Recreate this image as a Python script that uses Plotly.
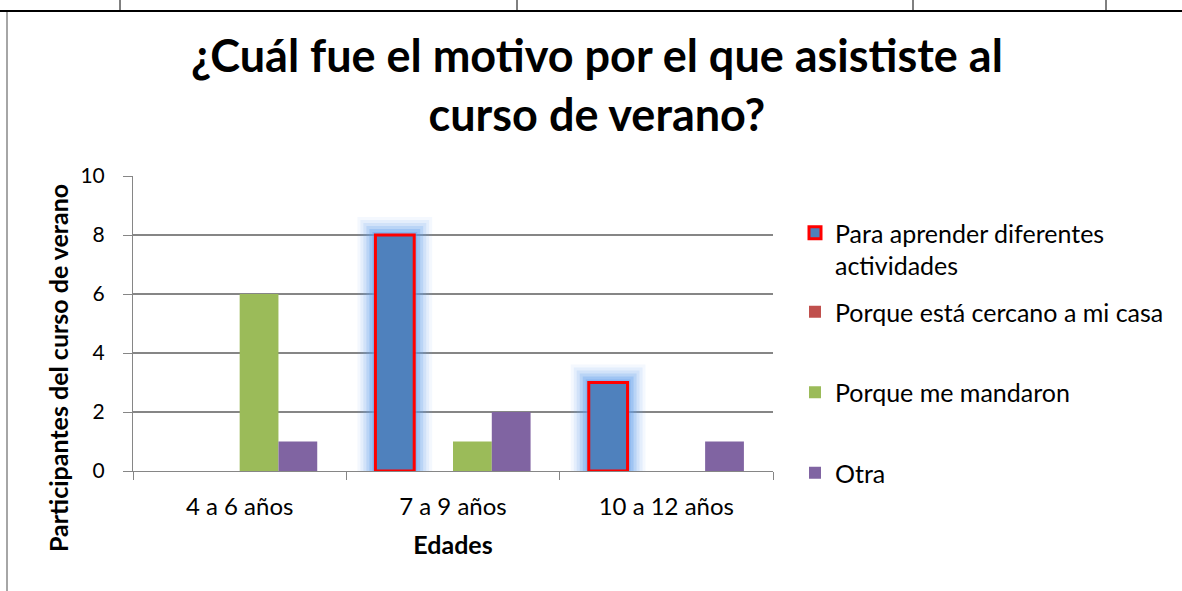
import plotly.graph_objects as go

categories = ["4 a 6 años", "7 a 9 años", "10 a 12 años"]
series_names = ["Para aprender diferentes<br>actividades", "Porque está cercano a mi casa",
                "Porque me mandaron", "Otra"]
para_aprender = [0, 8, 3]
cercano = [0, 0, 0]
mandaron = [6, 1, 0]
otra = [1, 2, 1]
y_ticks = [0, 2, 4, 6, 8, 10]

colors = ["#4F81BD", "#C0504D", "#9BBB59", "#8064A2"]
values = [para_aprender, cercano, mandaron, otra]

FONT = "Lato, Carlito, Calibri, sans-serif"
W, H = 1182, 591
n = len(values)
w = n / (n + 1.5) / n
offsets = [-n * w / 2 + i * w for i in range(n)]


def px(v):
    return v / W


def py(v):
    return 1 - v / H


fig = go.Figure()

# glow behind highlighted series
for gw, ga in [(36, 0.07), (30, 0.11), (24, 0.15), (18, 0.21), (12, 0.3), (6, 0.4)]:
    fig.add_trace(go.Bar(
        x=categories, y=para_aprender, offset=offsets[0], width=w,
        marker=dict(color="rgba(0,0,0,0)",
                    line=dict(color=f"rgba(100,160,235,{ga})",
                              width=[gw if v > 0 else 0 for v in para_aprender])),
        showlegend=False, hoverinfo="skip", cliponaxis=False))

for i, (name, vals, col) in enumerate(zip(series_names, values, colors)):
    line = dict(color="#FF0000", width=[3 if v > 0 else 0 for v in vals]) if i == 0 else dict(width=0)
    fig.add_trace(go.Bar(
        x=categories, y=vals, name=name, offset=offsets[i], width=w,
        marker=dict(color=col, line=line), showlegend=False))

# legend entries
for i, (name, col) in enumerate(zip(series_names, colors)):
    line = dict(color="#FF0000", width=3) if i == 0 else dict(width=0)
    fig.add_trace(go.Bar(
        x=categories, y=[None] * len(categories), name=name,
        marker=dict(color=col, line=line), legendgroup=f"g{i}",
        legend="legend" if i == 0 else "legend2", hoverinfo="skip"))

fig.update_layout(
    barmode="overlay",
    width=W, height=H, autosize=False,
    paper_bgcolor="white", plot_bgcolor="white",
    margin=dict(l=0, r=0, t=0, b=0, pad=0),
    font=dict(family=FONT, color="black", size=20),
    title=dict(text="<b>¿Cuál fue el motivo por el que asististe al<br>curso de verano?</b>",
               x=0.505, xanchor="center", y=py(72), yanchor="top",
               font=dict(size=45, family=FONT)),
    xaxis=dict(domain=[px(133), px(773)], showline=True, linecolor="#868686",
               ticks="outside", tickson="boundaries", ticklen=8, tickcolor="#868686",
               tickfont=dict(size=24), automargin=False, ticklabelstandoff=14,
               title=dict(text="<b>Edades</b>", font=dict(size=25), standoff=17)),
    yaxis=dict(domain=[py(471), py(176)], range=[0, 10], tickvals=y_ticks,
               showline=True, linecolor="#868686", gridcolor="#868686", gridwidth=1.5,
               ticks="outside", ticklen=9, tickcolor="#868686", tickfont=dict(size=21),
               automargin=False, ticklabelstandoff=14, zeroline=False),
    annotations=[dict(text="<b>Participantes del curso de verano</b>", textangle=-90,
                      xref="paper", yref="paper", x=px(58), y=py(368),
                      xanchor="center", yanchor="middle", showarrow=False,
                      font=dict(size=25, family=FONT))],
    legend=dict(x=px(795), y=py(210), xanchor="left", yanchor="top",
                font=dict(size=25), valign="top",
                bgcolor="rgba(0,0,0,0)", itemwidth=30),
    legend2=dict(x=px(795), y=py(289), xanchor="left", yanchor="top",
                 font=dict(size=25), tracegroupgap=45, valign="top",
                 bgcolor="rgba(0,0,0,0)", itemwidth=30),
    shapes=[
        dict(type="line", xref="paper", yref="paper", x0=0, x1=1, y0=py(11), y1=py(11),
             line=dict(color="black", width=2)),
        *[dict(type="line", xref="paper", yref="paper", x0=px(xx), x1=px(xx), y0=1, y1=py(11),
               line=dict(color="black", width=1)) for xx in [120, 517, 913, 1106]],
        dict(type="line", xref="paper", yref="paper", x0=px(7), x1=px(7), y0=py(12), y1=0,
             line=dict(color="#888888", width=1.5)),
    ],
)

fig.write_html("out.html", config={"displayModeBar": False},
               post_script="document.body.style.margin='0';document.body.style.overflow='hidden';")
